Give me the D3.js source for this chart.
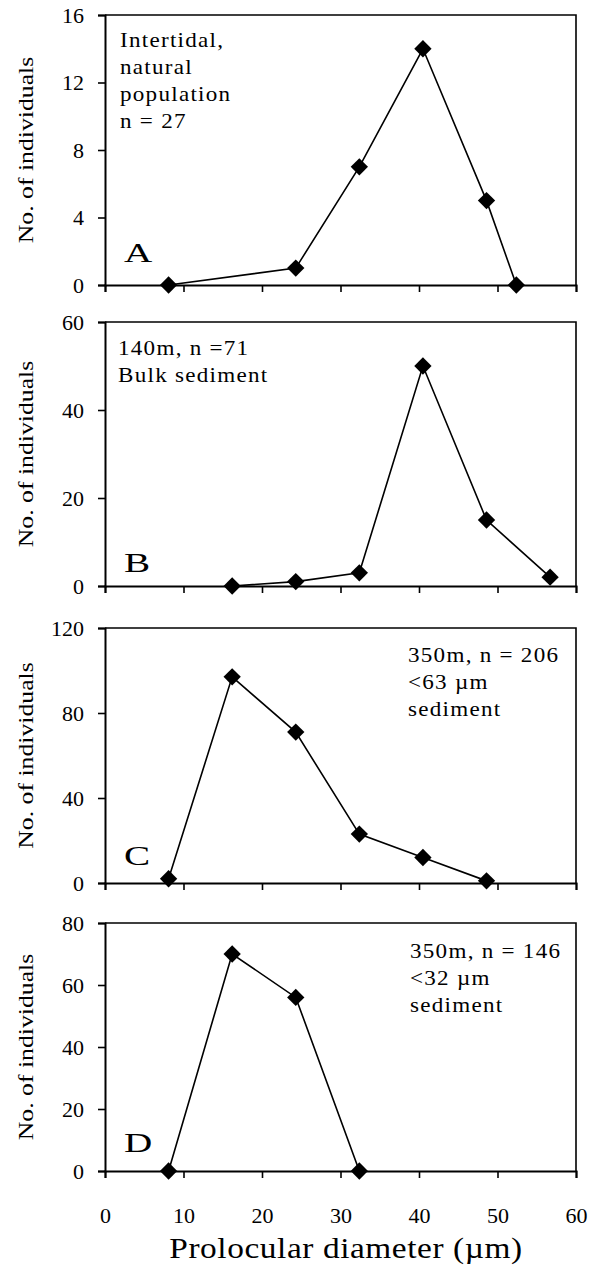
<!DOCTYPE html>
<html>
<head>
<meta charset="utf-8">
<script src="https://cdn.jsdelivr.net/npm/d3@7"></script>
<style>
  html, body { margin: 0; padding: 0; background: #fff; }
  svg { display: block; }
  svg text { font-family: "Times New Roman", Times, "Liberation Serif", "DejaVu Serif", serif !important; fill: #000; }
</style>
</head>
<body>
<svg id="chart" width="591" height="1266"></svg>
<script>
// ---- data ----
const panelLabels = ["A", "B", "C", "D"];
const xA = [8.1, 24.3, 32.4, 40.5, 48.6, 52.4];
const yA = [0, 1, 7, 14, 5, 0];
const xB = [16.2, 24.3, 32.4, 40.5, 48.6, 56.7];
const yB = [0, 1, 3, 50, 15, 2];
const xC = [8.1, 16.2, 24.3, 32.4, 40.5, 48.6];
const yC = [2, 97, 71, 23, 12, 1];
const xD = [8.1, 16.2, 24.3, 32.4];
const yD = [0, 70, 56, 0];
const yMaxes = [16, 60, 120, 80];
const yTicksA = [0, 4, 8, 12, 16];
const yTicksB = [0, 20, 40, 60];
const yTicksC = [0, 40, 80, 120];
const yTicksD = [0, 20, 40, 60, 80];
const xTicks = [0, 10, 20, 30, 40, 50, 60];
const notesA = ["Intertidal,", "natural", "population", "n = 27"];
const notesB = ["140m, n =71", "Bulk sediment"];
const notesC = ["350m, n = 206", "<63 \u00B5m", "sediment"];
const notesD = ["350m, n = 146", "<32 \u00B5m", "sediment"];
const yTitle = "No. of individuals";
const xTitle = "Prolocular diameter (\u00B5m)";

// ---- layout ----
const svg = d3.select("#chart");
const left = 105, right = 576;
const panelTops = [15, 322, 628, 923];
const panelBottoms = [285, 586, 883, 1171];
const noteX = [120, 118, 408, 410];
const noteY0 = [47, 355, 662, 958];
const lineH = 27;
const letterOffsets = [23, 14, 18, 19];

const x = d3.scaleLinear().domain([0, 60]).range([left, right]);

const panels = [
  {xs: xA, ys: yA, ticks: yTicksA, notes: notesA},
  {xs: xB, ys: yB, ticks: yTicksB, notes: notesB},
  {xs: xC, ys: yC, ticks: yTicksC, notes: notesC},
  {xs: xD, ys: yD, ticks: yTicksD, notes: notesD}
];

function stretchedText(g, tx, ty, str, size, sx, anchor, rot, ls) {
  const t = g.append("text")
    .attr("transform", `translate(${tx},${ty})` + (rot ? ` rotate(${rot})` : "") + ` scale(${sx},1)`)
    .attr("font-size", size)
    .attr("text-anchor", anchor || "start")
    .text(str);
  if (ls) t.attr("letter-spacing", ls);
  return t;
}

panels.forEach((p, i) => {
  const top = panelTops[i], bottom = panelBottoms[i];
  const y = d3.scaleLinear().domain([0, yMaxes[i]]).range([bottom, top]);
  const g = svg.append("g");

  g.append("path")
    .attr("d", `M${left},${top}H${right}V${bottom}`)
    .attr("fill", "none").attr("stroke", "#000").attr("stroke-width", 1.6);

  const ya = g.append("g").attr("transform", `translate(${left},0)`)
    .call(d3.axisLeft(y).tickValues(p.ticks).tickSize(7).tickPadding(14).tickFormat(d3.format("d")));
  ya.attr("font-family", null);
  ya.select(".domain").attr("stroke-width", 2);
  ya.selectAll(".tick line").attr("stroke-width", 1.6);
  ya.selectAll("text").attr("font-size", 22);

  const xa = g.append("g").attr("transform", `translate(0,${bottom})`)
    .call(d3.axisBottom(x).tickValues(xTicks).tickSize(7).tickPadding(29)
      .tickFormat(i === 3 ? d3.format("d") : () => ""));
  xa.attr("font-family", null);
  xa.select(".domain").attr("stroke-width", 2);
  xa.selectAll(".tick line").attr("stroke-width", 1.6);
  xa.selectAll("text").attr("font-size", 22);

  const pts = p.xs.map((v, k) => [v, p.ys[k]]);
  g.append("path")
    .attr("d", d3.line().x(d => x(d[0])).y(d => y(d[1]))(pts))
    .attr("fill", "none").attr("stroke", "#000").attr("stroke-width", 1.6);
  g.selectAll(".mk").data(pts).join("path")
    .attr("transform", d => `translate(${x(d[0])},${y(d[1])}) rotate(45)`)
    .attr("d", d3.symbol(d3.symbolSquare, 150)())
    .attr("fill", "#000");

  stretchedText(g, 33, (top + bottom) / 2, yTitle, 22, 1.17, "middle", -90);

  p.notes.forEach((s, k) => {
    stretchedText(g, noteX[i], noteY0[i] + k * lineH, s, 22, 1.05, "start", 0, 1.2);
  });

  stretchedText(g, 124, bottom - letterOffsets[i], panelLabels[i], 27, 1.45, "start", 0);
});

stretchedText(svg, 346, 1258, xTitle, 29, 1.15, "middle", 0, 0.5);
</script>
</body>
</html>
